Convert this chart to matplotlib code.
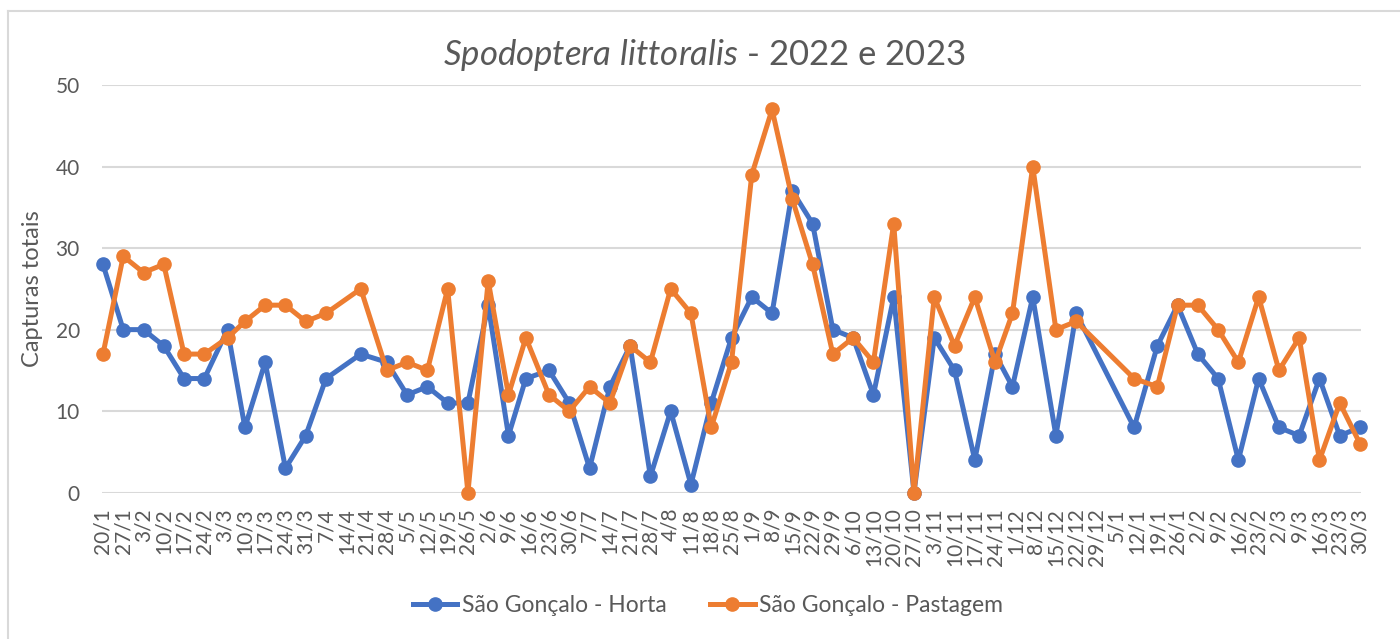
import matplotlib
matplotlib.use("Agg")
import matplotlib.pyplot as plt
from matplotlib.lines import Line2D
import pandas as pd

# collection dates (x axis is a real date axis)
datas = ["2022-01-20", "2022-01-27", "2022-02-03", "2022-02-10", "2022-02-17",
         "2022-02-24", "2022-03-04", "2022-03-10", "2022-03-17", "2022-03-24",
         "2022-03-31", "2022-04-07", "2022-04-19", "2022-04-28", "2022-05-05",
         "2022-05-12", "2022-05-19", "2022-05-26", "2022-06-02", "2022-06-09",
         "2022-06-15", "2022-06-23", "2022-06-30", "2022-07-07", "2022-07-14",
         "2022-07-21", "2022-07-28", "2022-08-04", "2022-08-11", "2022-08-18",
         "2022-08-25", "2022-09-01", "2022-09-08", "2022-09-15", "2022-09-22",
         "2022-09-29", "2022-10-06", "2022-10-13", "2022-10-20", "2022-10-27",
         "2022-11-03", "2022-11-10", "2022-11-17", "2022-11-24", "2022-11-30",
         "2022-12-07", "2022-12-15", "2022-12-22", "2023-01-11", "2023-01-19",
         "2023-01-26", "2023-02-02", "2023-02-09", "2023-02-16", "2023-02-23",
         "2023-03-02", "2023-03-09", "2023-03-16", "2023-03-23", "2023-03-30"]

horta = [28, 20, 20, 18, 14, 14, 20, 8, 16, 3,
         7, 14, 17, 16, 12, 13, 11, 11, 23, 7,
         14, 15, 11, 3, 13, 18, 2, 10, 1, 11,
         19, 24, 22, 37, 33, 20, 19, 12, 24, 0,
         19, 15, 4, 17, 13, 24, 7, 22, 8, 18,
         23, 17, 14, 4, 14, 8, 7, 14, 7, 8]

pastagem = [17, 29, 27, 28, 17, 17, 19, 21, 23, 23,
            21, 22, 25, 15, 16, 15, 25, 0, 26, 12,
            19, 12, 10, 13, 11, 18, 16, 25, 22, 8,
            16, 39, 47, 36, 28, 17, 19, 16, 33, 0,
            24, 18, 24, 16, 22, 40, 20, 21, 14, 13,
            23, 23, 20, 16, 24, 15, 19, 4, 11, 6]

nome_horta = "São Gonçalo - Horta"
nome_pastagem = "São Gonçalo - Pastagem"

azul = "#4472C4"
laranja = "#ED7D31"
cinza = "#595959"
grelha = "#D9D9D9"

plt.rcParams['font.family'] = ['Lato', 'DejaVu Sans']
plt.rcParams['mathtext.fontset'] = 'custom'
plt.rcParams['mathtext.rm'] = 'Lato'
plt.rcParams['mathtext.it'] = 'Lato:italic'

x = pd.to_datetime(datas)

fig = plt.figure(figsize=(14, 6.39), dpi=100)
ax = fig.add_axes([102/1400, 1-492.7/639, (1361-102)/1400, (492.7-85)/639])

ax.plot(x, horta, color=azul, lw=3.6, marker='o', ms=9.5, label=nome_horta,
        clip_on=False, zorder=3)
ax.plot(x, pastagem, color=laranja, lw=3.6, marker='o', ms=9.5, label=nome_pastagem,
        clip_on=False, zorder=4)

ax.set_ylim(0, 50)
ax.set_yticks(range(0, 51, 10))
ax.set_xlim(x[0] - pd.Timedelta(hours=8), x[-1] + pd.Timedelta(hours=8))

semanas = pd.date_range(x[0], x[-1], freq='7D')
ax.set_xticks(semanas)
ax.set_xticklabels([f"{d.day}/{d.month}" for d in semanas], rotation=90,
                   va='top', ha='center')

ax.grid(axis='y', color=grelha, lw=1.5)
ax.set_axisbelow(True)
for s in ax.spines.values():
    s.set_visible(False)
ax.tick_params(axis='both', length=0, colors=cinza, labelsize=15)
ax.tick_params(axis='y', pad=16)
ax.tick_params(axis='x', pad=11)

ax.set_ylabel("Capturas totais", fontsize=17, color=cinza, labelpad=9)

fig.text(0.503, 1-55/639, r"$\it{Spodoptera\ littoralis}$ - 2022 e 2023",
         ha='center', va='center', fontsize=25, color=cinza)

fig.legend(loc='center', bbox_to_anchor=(708/1400, 1-606/639), ncol=2,
           frameon=False, fontsize=16.5, handlelength=1.95, columnspacing=1.9,
           handletextpad=0.2, labelcolor=cinza)

# chart area border (only left and top visible in the crop)
fig.add_artist(Line2D([8/1400, 8/1400], [0, 1-11/639], color=grelha, lw=1.5,
                      transform=fig.transFigure))
fig.add_artist(Line2D([8/1400, 1], [1-11/639, 1-11/639], color=grelha, lw=1.5,
                      transform=fig.transFigure))

fig.savefig("out.png", dpi=100)
